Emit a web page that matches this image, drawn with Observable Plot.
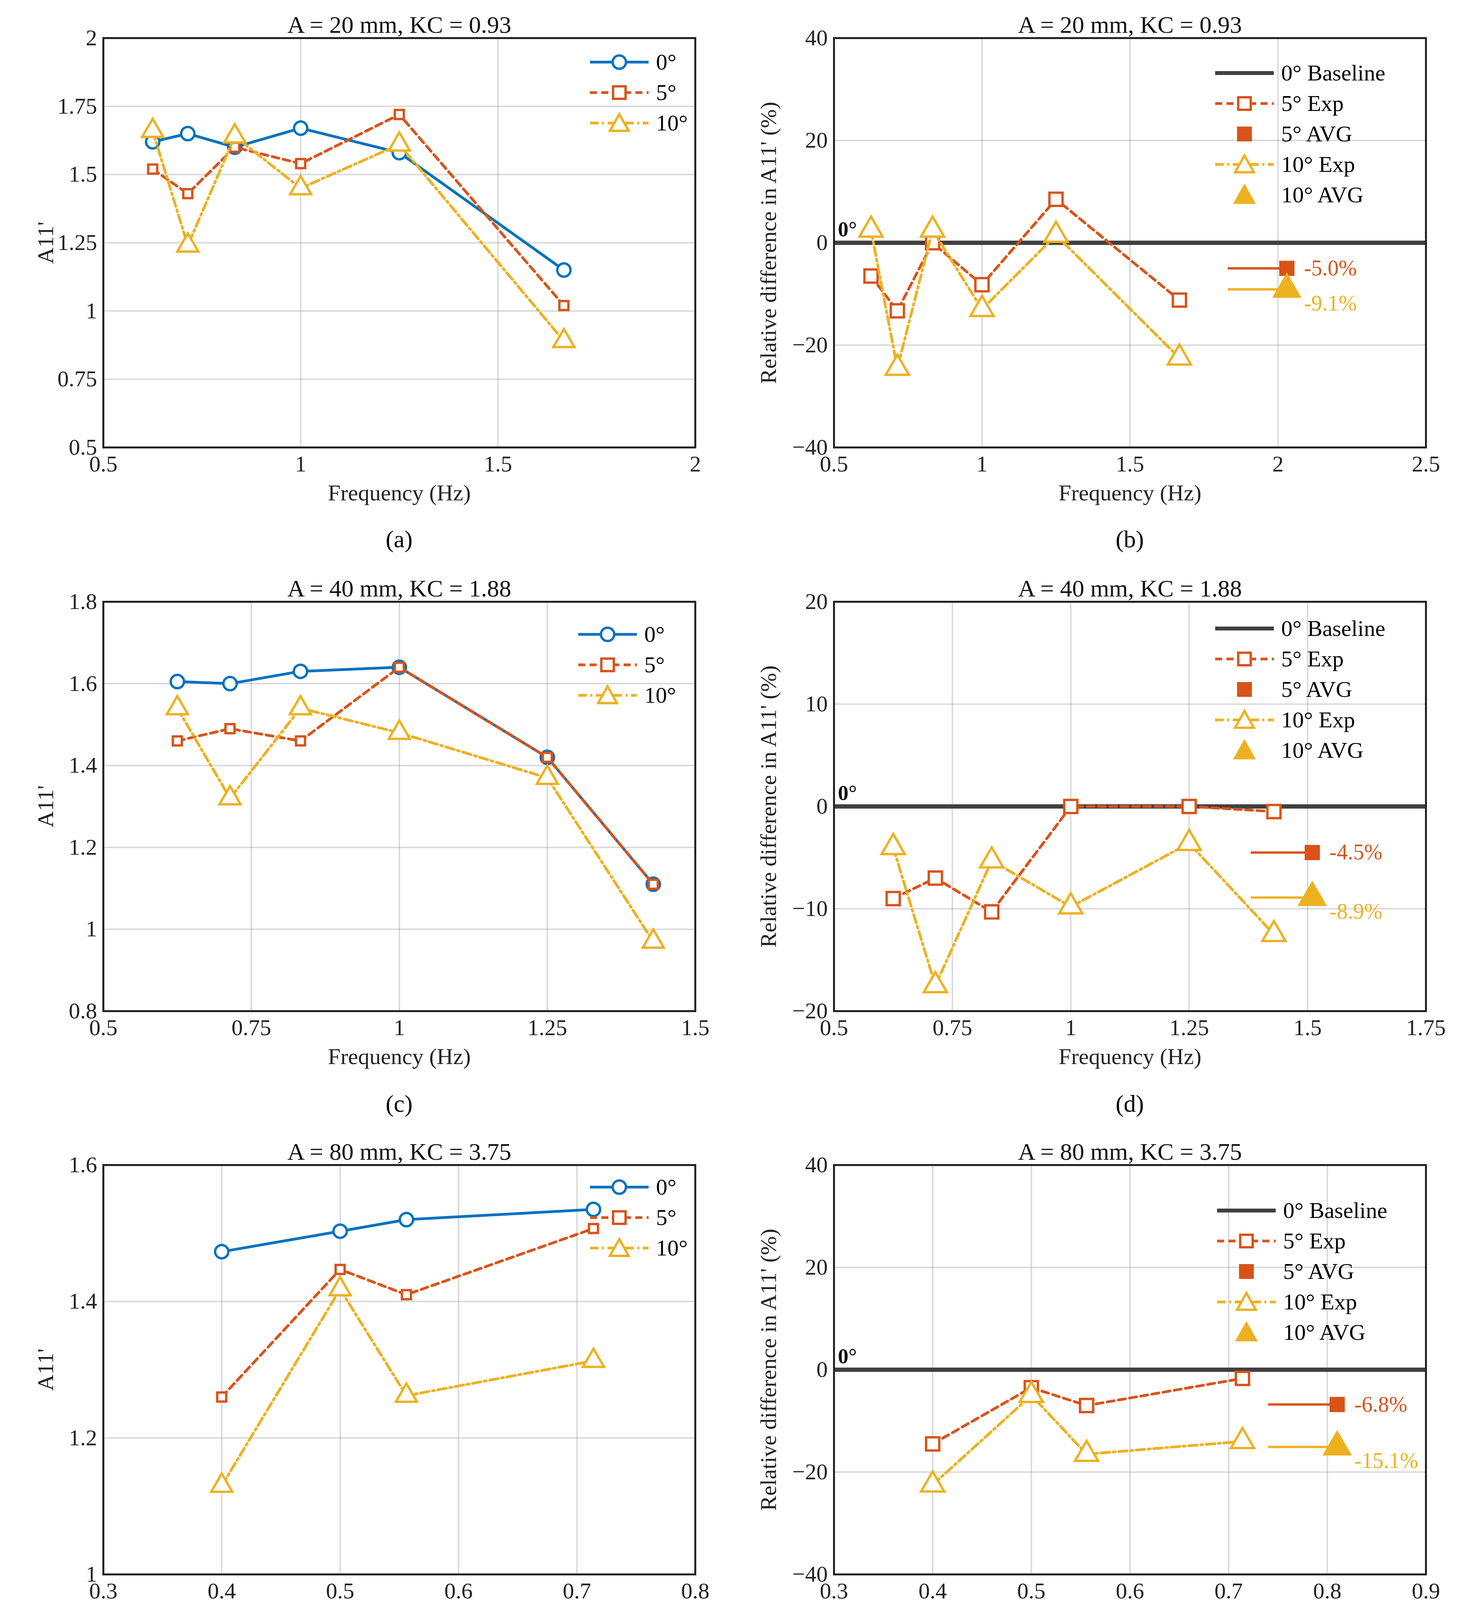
<!DOCTYPE html>
<html><head><meta charset="utf-8">
<script src="https://cdn.jsdelivr.net/npm/d3@7"></script>
<script src="https://cdn.jsdelivr.net/npm/@observablehq/plot@0.6"></script>
<style>
body{margin:0;background:#fff;font-family:"Liberation Serif",serif;}
#root{position:relative;width:3752px;height:4368px;overflow:hidden;}
.p{position:absolute;}
.cap{position:absolute;font-size:62px;width:1876px;text-align:center;}
.leg{position:absolute;font-size:58px;line-height:78px;}
.leg div{display:flex;align-items:center;}
.leg svg{margin-right:14px;}
</style></head><body><div id="root"></div>
<script>
const C0="#0072BD",C5="#D95319",C10="#EDB120",CB="#404040";
// Panel a
const fA=[0.625,0.714,0.833,1.0,1.25,1.667];
const a0=[1.62,1.65,1.60,1.67,1.58,1.15];
const a5=[1.52,1.43,1.60,1.54,1.72,1.02];
const a10=[1.66,1.24,1.64,1.45,1.61,0.89];
// Panel b
const b5=[-6.5,-13.3,0,-8.2,8.5,-11.2];
const b10=[2.5,-24.5,2.5,-13,1.5,-22.5];
const bAvg=[-5.0,-9.1], bAvgX=2.03, bLineX=1.83;
// Panel c
const fC=[0.625,0.714,0.833,1.0,1.25,1.429];
const c0=[1.605,1.60,1.63,1.64,1.42,1.11];
const c5=[1.46,1.49,1.46,1.64,1.42,1.11];
const c10=[1.54,1.32,1.54,1.48,1.37,0.97];
// Panel d
const d5=[-9,-7,-10.3,0,0,-0.5];
const d10=[-4,-17.5,-5.3,-9.8,-3.6,-12.5];
const dAvg=[-4.5,-8.9], dAvgX=1.51, dLineX=1.38;
// Panel e
const fE=[0.4,0.5,0.556,0.714];
const e0=[1.473,1.503,1.52,1.535];
const e5=[1.26,1.447,1.41,1.507];
const e10=[1.13,1.418,1.262,1.313];
// Panel f
const f5=[-14.5,-3.5,-7,-1.7];
const f10=[-22.5,-5,-16.5,-14];
const fAvg=[-6.8,-15.1], fAvgX=0.81, fLineX=0.74;

const root=document.getElementById("root");
const FS=58, PW=1515, PH=1048;
const rows=[97,1540,2982];
const D5="18,11", D10="22,9,5,9";

function tbl(xs,ys){return xs.map((x,i)=>({x,y:ys[i]}));}
function series(xs,ys,col,sym,dash,r){
  const d=tbl(xs,ys);
  return [Plot.line(d,{x:"x",y:"y",stroke:col,strokeWidth:7,strokeDasharray:dash}),
          Plot.dot(d,{x:"x",y:"y",symbol:sym,r,stroke:col,strokeWidth:6,fill:"white"})];
}
function panel(col,row,opts,marks,title){
  const left = col===0?0:1876;
  const ml = col===0?264:258;
  const svg=Plot.plot({
    width:1876,height:97+PH+170,marginLeft:ml,marginRight:1876-ml-PW,marginTop:97,marginBottom:170,
    style:{fontFamily:"Liberation Serif, serif",fontSize:FS+"px",background:"white",color:"#222"},
    x:{domain:opts.xd,ticks:opts.xt,tickFormat:opts.xf||(d=>String(d)),label:"Frequency (Hz)",labelAnchor:"center",labelArrow:"none",labelOffset:135,tickSize:0,tickPadding:20},
    y:{domain:opts.yd,ticks:opts.yt,tickFormat:opts.yf||(d=>String(d).replace("-","−")),label:opts.yl,labelAnchor:"center",labelArrow:"none",labelOffset:opts.ylo||170,tickSize:0,tickPadding:16},
    marks:[
      Plot.gridX(opts.xt,{stroke:"#999",strokeOpacity:0.35,strokeWidth:4}),
      Plot.gridY(opts.yt,{stroke:"#999",strokeOpacity:0.35,strokeWidth:4}),
      ...marks,
      Plot.frame({stroke:"#222",strokeWidth:5}),
      Plot.text([title],{frameAnchor:"top",lineAnchor:"bottom",dy:-14,fontSize:62,fill:"#111"})
    ]
  });
  svg.classList.add("p");
  svg.style.left=left+"px"; svg.style.top=(rows[row]-97)+"px";
  root.appendChild(svg);
}
function sym(kind,col,filled,dash){
  const w=160,h=56;
  let s=`<svg width="${w}" height="${h}">`;
  if(dash!==null) s+=`<line x1="5" x2="${w-5}" y1="28" y2="28" stroke="${col}" stroke-width="${kind==='base'?10:7}" ${dash?`stroke-dasharray="${dash}"`:""}/>`;
  const f=filled?col:"white";
  if(kind==="circle") s+=`<circle cx="80" cy="28" r="17" fill="${f}" stroke="${col}" stroke-width="6"/>`;
  if(kind==="square") s+=`<rect x="64" y="12" width="32" height="32" fill="${f}" stroke="${col}" stroke-width="6"/>`;
  if(kind==="tri") s+=`<polygon points="80,5 104,48 56,48" fill="${f}" stroke="${col}" stroke-width="6"/>`;
  return s+"</svg>";
}
function legend(x,y,items){
  const d=document.createElement("div");d.className="leg";d.style.left=x+"px";d.style.top=y+"px";
  d.innerHTML=items.map(([k,c,f,dash,t])=>`<div>${sym(k,c,f,dash)}<span>${t}</span></div>`).join("");
  root.appendChild(d);
}
function leftLeg(x,y){legend(x,y,[["circle",C0,false,"","0°"],["square",C5,false,D5,"5°"],["tri",C10,false,D10,"10°"]]);}
function rightLeg(x,y){legend(x,y,[["base",CB,false,"","0° Baseline"],["square",C5,false,D5,"5° Exp"],["square",C5,true,null,"5° AVG"],["tri",C10,false,D10,"10° Exp"],["tri",C10,true,null,"10° AVG"]]);}
function relMarks(xs,s5,s10,avg,ax,lx,x0){
  return [
    Plot.ruleY([0],{stroke:CB,strokeWidth:11}),
    Plot.text(["0°"],{x:x0,y:0,dy:-34,dx:10,textAnchor:"start",fontWeight:"bold",fontSize:54,fill:"#111"}),
    ...series(xs,s5,C5,"square",D5,19),
    ...series(xs,s10,C10,"triangle",D10,22),
    Plot.link([{x1:lx,x2:ax,y:avg[0]}],{x1:"x1",x2:"x2",y1:"y",y2:"y",stroke:C5,strokeWidth:6}),
    Plot.link([{x1:lx,x2:ax,y:avg[1]}],{x1:"x1",x2:"x2",y1:"y",y2:"y",stroke:C10,strokeWidth:6}),
    Plot.dot([{x:ax,y:avg[0]}],{x:"x",y:"y",symbol:"square",r:22,fill:C5}),
    Plot.dot([{x:ax,y:avg[1]}],{x:"x",y:"y",symbol:"triangle",r:28,fill:C10}),
    Plot.text([{x:ax,y:avg[0],t:avg[0].toFixed(1)+"%"}],{x:"x",y:"y",text:"t",dx:44,textAnchor:"start",fill:C5,fontSize:56}),
    Plot.text([{x:ax,y:avg[1],t:avg[1].toFixed(1)+"%"}],{x:"x",y:"y",text:"t",dx:44,dy:36,textAnchor:"start",fill:C10,fontSize:56})
  ];
}
const relL="Relative difference in A11' (%)";
// a
panel(0,0,{xd:[0.5,2],xt:[0.5,1,1.5,2],yd:[0.5,2],yt:[0.5,0.75,1,1.25,1.5,1.75,2],yl:"A11'"},
 [...series(fA,a0,C0,"circle",null,17),...series(fA,a5,C5,"square",D5,13),...series(fA,a10,C10,"triangle",D10,20)],"A = 20 mm, KC = 0.93");
leftLeg(1505,120);
// b
panel(1,0,{xd:[0.5,2.5],xt:[0.5,1,1.5,2,2.5],yd:[-40,40],yt:[-40,-20,0,20,40],yl:relL,ylo:190},
 relMarks(fA,b5,b10,bAvg,bAvgX,bLineX,0.5),"A = 20 mm, KC = 0.93");
rightLeg(3105,148);
// c
panel(0,1,{xd:[0.5,1.5],xt:[0.5,0.75,1,1.25,1.5],yd:[0.8,1.8],yt:[0.8,1,1.2,1.4,1.6,1.8],yl:"A11'"},
 [...series(fC,c0,C0,"circle",null,17),...series(fC,c5,C5,"square",D5,13),...series(fC,c10,C10,"triangle",D10,20)],"A = 40 mm, KC = 1.88");
leftLeg(1475,1585);
// d
panel(1,1,{xd:[0.5,1.75],xt:[0.5,0.75,1,1.25,1.5,1.75],yd:[-20,20],yt:[-20,-10,0,10,20],yl:relL,ylo:190},
 relMarks(fC,d5,d10,dAvg,dAvgX,dLineX,0.5),"A = 40 mm, KC = 1.88");
rightLeg(3105,1570);
// e
panel(0,2,{xd:[0.3,0.8],xt:[0.3,0.4,0.5,0.6,0.7,0.8],yd:[1,1.6],yt:[1,1.2,1.4,1.6],yl:"A11'"},
 [...series(fE,e0,C0,"circle",null,17),...series(fE,e5,C5,"square",D5,13),...series(fE,e10,C10,"triangle",D10,20)],"A = 80 mm, KC = 3.75");
leftLeg(1505,3000);
// f
panel(1,2,{xd:[0.3,0.9],xt:[0.3,0.4,0.5,0.6,0.7,0.8,0.9],yd:[-40,40],yt:[-40,-20,0,20,40],yl:relL,ylo:190},
 relMarks(fE,f5,f10,fAvg,fAvgX,fLineX,0.3),"A = 80 mm, KC = 3.75");
rightLeg(3110,3060);
// captions
[["(a)",0,1345],["(b)",1876,1345],["(c)",0,2790],["(d)",1876,2790],["(e)",0,4230],["(f)",1876,4230]].forEach(([t,x,y])=>{
  const d=document.createElement("div");d.className="cap";d.textContent=t;
  d.style.left=x+"px";d.style.top=y+"px";
  d.style.paddingLeft=(x?"258px":"264px");d.style.boxSizing="border-box";d.style.paddingRight=(x?"103px":"97px");
  root.appendChild(d);
});
</script></body></html>
